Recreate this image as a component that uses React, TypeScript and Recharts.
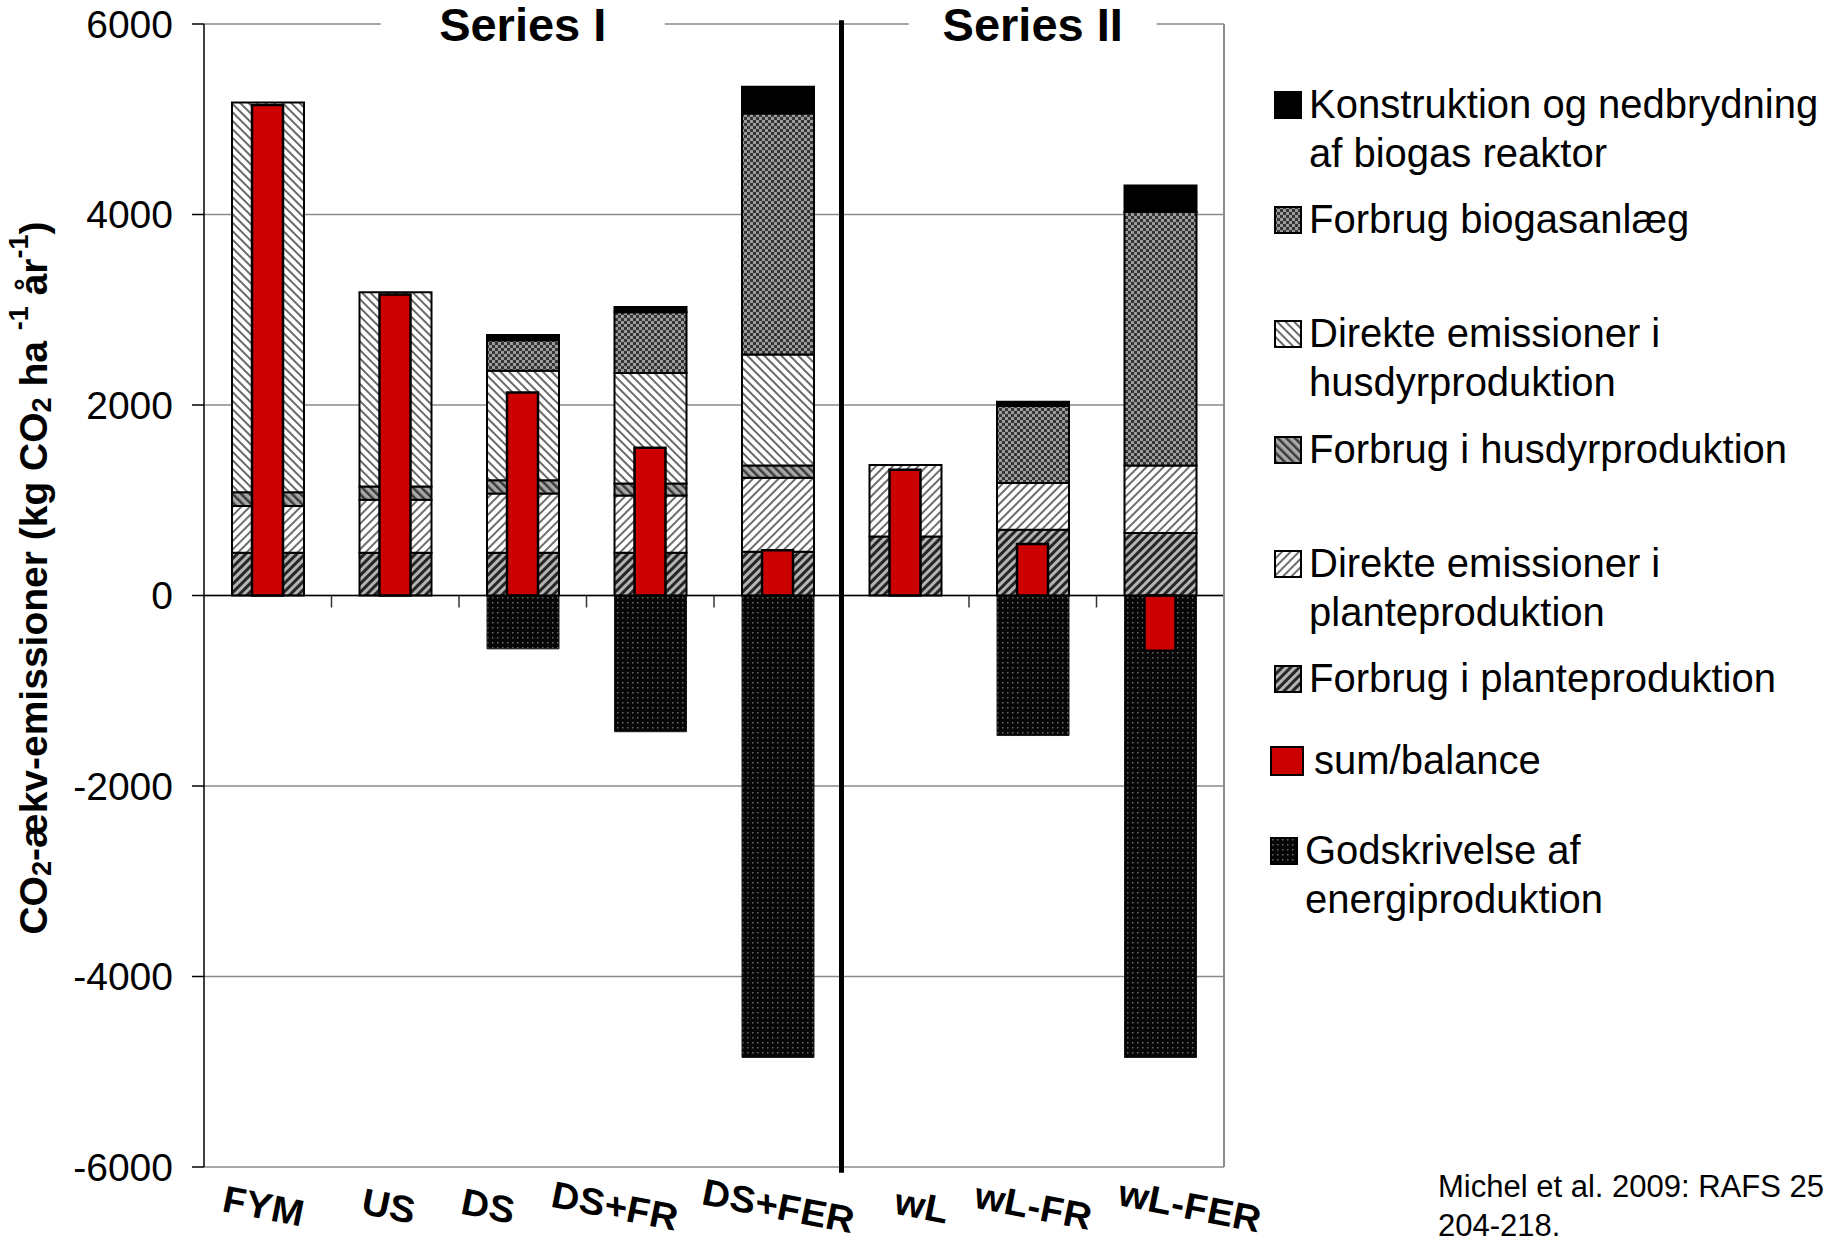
import { Bar, BarChart, CartesianGrid, ReferenceLine, XAxis, YAxis } from "recharts";

const FONT = "'Liberation Sans', Arial, sans-serif";

const CATEGORIES = ["FYM", "US", "DS", "DS+FR", "DS+FER", "wL", "wL-FR", "wL-FER"];
const FORBRUG_PLANTE = [450, 450, 450, 450, 460, 620, 690, 655];
const DIREKTE_PLANTE = [490, 555, 620, 600, 775, 750, 490, 710];
const FORBRUG_HUSDYR = [145, 140, 140, 125, 130, 0, 0, 0];
const DIREKTE_HUSDYR = [4090, 2040, 1150, 1160, 1165, 0, 0, 0];
const BIOGASANLAEG = [0, 0, 320, 640, 2530, 0, 810, 2660];
const KONSTRUKTION = [0, 0, 55, 55, 280, 0, 45, 280];
const GODSKRIVELSE = [0, 0, -560, -1430, -4850, 0, -1470, -4850];
const SUM_BALANCE = [5150, 3160, 2130, 1550, 475, 1320, 540, -580];
const Y_TICKS = [-6000, -4000, -2000, 0, 2000, 4000, 6000];
const SERIES_I = ["FYM", "DS+FER"];
const SERIES_II = ["wL", "wL-FER"];

// category labels in the original are hand placed, not centred on the bars
const LABEL_NUDGE: Record<string, number> = {
  FYM: -5, US: -7, DS: -35, "DS+FR": -36, "DS+FER": 0, wL: 16, "wL-FR": 0, "wL-FER": 29,
};

// stacked from the bottom up
const STACK = [
  { key: "forbrugPlante", values: FORBRUG_PLANTE, fill: "url(#pPlanteForbrug)" },
  { key: "direktePlante", values: DIREKTE_PLANTE, fill: "url(#pPlanteDirekte)" },
  { key: "forbrugHusdyr", values: FORBRUG_HUSDYR, fill: "url(#pHusdyrForbrug)" },
  { key: "direkteHusdyr", values: DIREKTE_HUSDYR, fill: "url(#pHusdyrDirekte)" },
  { key: "biogas", values: BIOGASANLAEG, fill: "url(#pBiogas)" },
  { key: "konstruktion", values: KONSTRUKTION, fill: "#000" },
  { key: "godskrivelse", values: GODSKRIVELSE, fill: "url(#pGods)" },
];

const LEGEND = [
  { lines: ["Konstruktion og nedbrydning", "af biogas reaktor"], fill: "#000", top: 80 },
  { lines: ["Forbrug biogasanlæg"], fill: "url(#pBiogas)", top: 195 },
  { lines: ["Direkte emissioner i", "husdyrproduktion"], fill: "url(#pHusdyrDirekte)", top: 309 },
  { lines: ["Forbrug i husdyrproduktion"], fill: "url(#pHusdyrForbrug)", top: 425 },
  { lines: ["Direkte emissioner i", "planteproduktion"], fill: "url(#pPlanteDirekte)", top: 539 },
  { lines: ["Forbrug i planteproduktion"], fill: "url(#pPlanteForbrug)", top: 654 },
  { lines: ["sum/balance"], fill: "#cc0000", top: 736, big: true },
  { lines: ["Godskrivelse af", "energiproduktion"], fill: "url(#pGods)", top: 826, shift: true },
];

const data = CATEGORIES.map((name, i) => {
  const row: Record<string, string | number> = { name, sum: SUM_BALANCE[i] };
  STACK.forEach((s) => (row[s.key] = s.values[i]));
  return row;
});

function Patterns() {
  return (
    <svg width={0} height={0} style={{ position: "absolute" }}>
      <defs>
        <pattern id="pPlanteForbrug" width={6} height={6} patternUnits="userSpaceOnUse" patternTransform="rotate(45)">
          <rect width={6} height={6} fill="#b4b4b4" />
          <rect width={3} height={6} fill="#262626" />
        </pattern>
        <pattern id="pPlanteDirekte" width={6} height={6} patternUnits="userSpaceOnUse" patternTransform="rotate(45)">
          <rect width={6} height={6} fill="#fff" />
          <rect width={2} height={6} fill="#6e6e6e" />
        </pattern>
        <pattern id="pHusdyrForbrug" width={6} height={6} patternUnits="userSpaceOnUse" patternTransform="rotate(-45)">
          <rect width={6} height={6} fill="#a8a8a8" />
          <rect width={2.5} height={6} fill="#3a3a3a" />
        </pattern>
        <pattern id="pHusdyrDirekte" width={6} height={6} patternUnits="userSpaceOnUse" patternTransform="rotate(-45)">
          <rect width={6} height={6} fill="#fff" />
          <rect width={2} height={6} fill="#6a6a6a" />
        </pattern>
        <pattern id="pBiogas" width={6} height={6} patternUnits="userSpaceOnUse">
          <rect width={6} height={6} fill="#353535" />
          <rect width={3} height={3} fill="#9c9c9c" />
          <rect x={3} y={3} width={3} height={3} fill="#9c9c9c" />
        </pattern>
        <pattern id="pGods" width={5} height={5} patternUnits="userSpaceOnUse">
          <rect width={5} height={5} fill="#060606" />
          <rect x={2} y={2} width={1.5} height={1.5} fill="#6a6a6a" />
        </pattern>
      </defs>
    </svg>
  );
}

function CategoryTick({ x, y, payload }: any) {
  const dx = LABEL_NUDGE[payload.value] ?? 0;
  return (
    <g transform={`translate(${x + dx},${y})`}>
      <text
        transform="skewY(11)"
        y={52}
        textAnchor="middle"
        fontFamily={FONT}
        fontSize={38}
        fontWeight="bold"
        fontStyle="italic"
        fill="#000"
      >
        {payload.value}
      </text>
    </g>
  );
}

function YLabel() {
  return (
    <text
      transform="translate(33,578) rotate(-90)"
      textAnchor="middle"
      dominantBaseline="central"
      fontFamily={FONT}
      fontSize={39}
      fontWeight="bold"
      fill="#000"
    >
      CO<tspan dy={9} fontSize={27}>2</tspan>
      <tspan dy={-9}>-ækv-emissioner (kg CO</tspan>
      <tspan dy={9} fontSize={27}>2</tspan>
      <tspan dy={-9}> ha </tspan>
      <tspan dy={-14} fontSize={27}>-1</tspan>
      <tspan dy={14}> år</tspan>
      <tspan dy={-14} fontSize={27}>-1</tspan>
      <tspan dy={14}>)</tspan>
    </text>
  );
}

function seriesTitle(text: string, gap: number) {
  return (props: any) => {
    const vb = props.viewBox || {};
    const cx = vb.x + (vb.width || 0) / 2;
    const cy = vb.y + (vb.height || 0) / 2;
    return (
      <g>
        <rect x={cx - gap / 2} y={cy - 12} width={gap} height={24} fill="#fff" />
        <text
          x={cx}
          y={cy}
          dy="0.36em"
          textAnchor="middle"
          fontFamily={FONT}
          fontSize={47}
          fontWeight="bold"
          fill="#000"
        >
          {text}
        </text>
      </g>
    );
  };
}

export default function App() {
  const last = CATEGORIES[CATEGORIES.length - 1];
  return (
    <div
      style={{
        position: "absolute",
        left: 0,
        top: 0,
        width: 1833,
        height: 1238,
        background: "#fff",
        overflow: "hidden",
        fontFamily: FONT,
      }}
    >
      <Patterns />
      <BarChart
        width={1833}
        height={1238}
        data={data}
        stackOffset="sign"
        margin={{ top: 24, right: 609, bottom: 0, left: 0 }}
      >
        <CartesianGrid xAxisId="main" vertical={false} stroke="#8a8a8a" strokeWidth={1.5} />
        <XAxis
          xAxisId="main"
          dataKey="name"
          height={71}
          interval={0}
          axisLine={false}
          tickLine={false}
          tickSize={0}
          tickMargin={0}
          tick={<CategoryTick />}
        />
        <XAxis xAxisId="red" dataKey="name" hide />
        <YAxis
          width={204}
          domain={[-6000, 6000]}
          ticks={Y_TICKS}
          interval={0}
          axisLine={{ stroke: "#000", strokeWidth: 1.5 }}
          tickLine={{ stroke: "#000", strokeWidth: 1.5 }}
          tickSize={12}
          tickMargin={19}
          tick={{ fill: "#000", fontSize: 39, fontFamily: FONT }}
          label={{ content: () => <YLabel /> }}
        />
        {STACK.map((s) => (
          <Bar
            key={s.key}
            xAxisId="main"
            dataKey={s.key}
            stackId="s"
            barSize={72}
            fill={s.fill}
            stroke={s.key === "godskrivelse" ? "#1a1a1a" : "#000"}
            strokeWidth={s.key === "godskrivelse" ? 1 : 2}
            isAnimationActive={false}
          />
        ))}
        <Bar
          xAxisId="red"
          dataKey="sum"
          barSize={31}
          fill="#cc0000"
          stroke="#000"
          strokeWidth={2.5}
          isAnimationActive={false}
        />
        <ReferenceLine xAxisId="main" y={0} stroke="#000" strokeWidth={1.5} />
        {CATEGORIES.slice(1).map((c) => (
          <ReferenceLine
            key={`t-${c}`}
            xAxisId="main"
            position="start"
            segment={[{ x: c, y: 0 }, { x: c, y: -126 }]}
            stroke="#333"
            strokeWidth={1.5}
            ifOverflow="visible"
          />
        ))}
        <ReferenceLine
          xAxisId="main"
          position="end"
          segment={[{ x: last, y: 0 }, { x: last, y: -126 }]}
          stroke="#333"
          strokeWidth={1.5}
          ifOverflow="visible"
        />
        <ReferenceLine
          xAxisId="main"
          position="end"
          segment={[{ x: last, y: 6000 }, { x: last, y: -6000 }]}
          stroke="#8a8a8a"
          strokeWidth={2}
          ifOverflow="visible"
        />
        <ReferenceLine
          xAxisId="main"
          position="start"
          segment={[{ x: SERIES_II[0], y: 6040 }, { x: SERIES_II[0], y: -6060 }]}
          stroke="#000"
          strokeWidth={5}
          ifOverflow="visible"
        />
        <ReferenceLine
          xAxisId="main"
          segment={[{ x: SERIES_I[0], y: 6000 }, { x: SERIES_I[1], y: 6000 }]}
          stroke="none"
          ifOverflow="visible"
          label={seriesTitle("Series I", 284)}
        />
        <ReferenceLine
          xAxisId="main"
          segment={[{ x: SERIES_II[0], y: 6000 }, { x: SERIES_II[1], y: 6000 }]}
          stroke="none"
          ifOverflow="visible"
          label={seriesTitle("Series II", 248)}
        />
      </BarChart>

      {LEGEND.map((item) => (
        <div key={item.lines[0]} style={{ position: "absolute", left: 1260, top: item.top, width: 573 }}>
          <svg
            width={item.big ? 34 : 28}
            height={item.big ? 30 : 28}
            style={{ position: "absolute", left: item.big || item.shift ? 10 : 14, top: item.big ? 10 : 11 }}
          >
            <rect
              x={1}
              y={1}
              width={item.big ? 32 : 26}
              height={item.big ? 28 : 26}
              fill={item.fill}
              stroke="#000"
              strokeWidth={2}
            />
          </svg>
          <div
            style={{
              position: "absolute",
              left: item.big ? 54 : item.shift ? 45 : 49,
              top: 0,
              fontSize: 40,
              lineHeight: "49px",
              color: "#000",
              whiteSpace: "nowrap",
            }}
          >
            {item.lines.map((l) => (
              <div key={l}>{l}</div>
            ))}
          </div>
        </div>
      ))}

      <div
        style={{
          position: "absolute",
          left: 1438,
          top: 1167,
          fontSize: 31,
          lineHeight: "39px",
          color: "#000",
          whiteSpace: "nowrap",
        }}
      >
        <div>Michel et al. 2009: RAFS 25</div>
        <div>204-218.</div>
      </div>
    </div>
  );
}
